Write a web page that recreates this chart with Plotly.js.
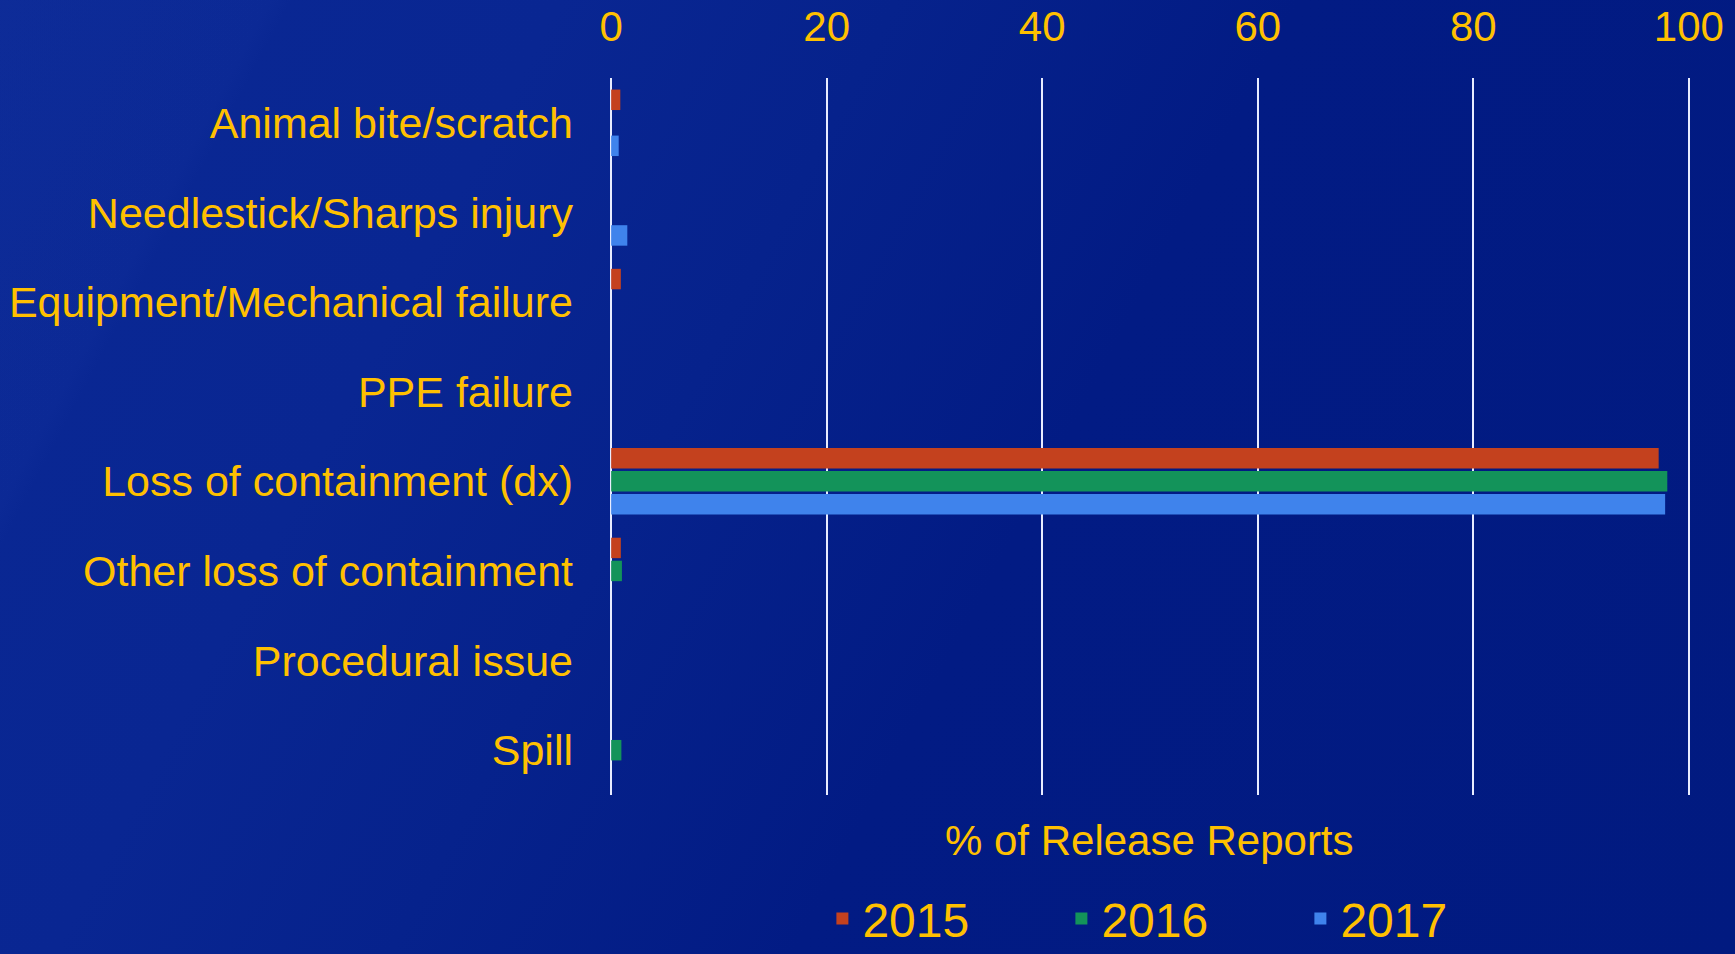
<!DOCTYPE html>
<html>
<head>
<meta charset="utf-8">
<script src="https://cdn.plot.ly/plotly-3.0.1.min.js"></script>
<style>
html, body { margin:0; padding:0; width:1735px; height:954px; overflow:hidden; }
body {
  background:
    linear-gradient(118deg, rgba(30,60,170,0.18) 0%, rgba(30,60,170,0.10) 12%, rgba(0,0,0,0) 13%),
    linear-gradient(118deg, #0a2894 0%, #092692 25%, #06228c 40%, #021b84 58%, #011a80 100%);
}
#chart { width:1735px; height:954px; }
</style>
</head>
<body>
<div id="chart"></div>
<script>
const categories = [
  "Animal bite/scratch",
  "Needlestick/Sharps injury",
  "Equipment/Mechanical failure",
  "PPE failure",
  "Loss of containment (dx)",
  "Other loss of containment",
  "Procedural issue",
  "Spill"
];
const seriesNames = ["2015", "2016", "2017"];
const values2015 = [0.85, 0, 0.9, 0, 97.2, 0.9, 0, 0];
const values2016 = [0, 0, 0, 0, 98.0, 1.0, 0, 0.95];
const values2017 = [0.7, 1.5, 0, 0, 97.8, 0, 0, 0];
const xTicks = [0, 20, 40, 60, 80, 100];
const xTitle = "% of Release Reports";

const gold = "#FFC000";
const font = "Liberation Sans, Arial, sans-serif";

const colors = ["#C4411E", "#13935A", "#3F83EC"];
const allValues = [values2015, values2016, values2017];

const traces = allValues.map((vals, i) => ({
  type: "bar",
  orientation: "h",
  name: seriesNames[i],
  x: vals,
  y: categories,
  marker: { color: colors[i], line: { width: 0 } },
  hoverinfo: "x+y"
}));

const layout = {
  width: 1735,
  height: 954,
  paper_bgcolor: "rgba(0,0,0,0)",
  plot_bgcolor: "rgba(0,0,0,0)",
  margin: { l: 609, r: 44, t: 78, b: 159, autoexpand: false },
  barmode: "group",
  bargap: 0.23,
  bargroupgap: 0.11,
  showlegend: true,
  legend: {
    orientation: "h",
    xref: "container", yref: "container",
    x: 0.474, xanchor: "left",
    y: 0.037, yanchor: "middle",
    font: { family: font, size: 48, color: gold },
    entrywidth: 194,
    entrywidthmode: "pixels",
    bgcolor: "rgba(0,0,0,0)",
    itemclick: false
  },
  xaxis: {
    side: "top",
    range: [-0.2, 100.2],
    tickvals: xTicks,
    ticktext: xTicks.map(String),
    showgrid: true,
    gridcolor: "#E8ECFF",
    gridwidth: 2,
    zeroline: false,
    showline: false,
    ticks: "",
    ticklabelstandoff: 28,
    tickfont: { family: font, size: 42, color: gold },
    fixedrange: true
  },
  yaxis: {
    autorange: "reversed",
    type: "category",
    showgrid: false,
    zeroline: false,
    showline: false,
    ticks: "",
    ticklabelstandoff: 35,
    tickfont: { family: font, size: 43, color: gold },
    fixedrange: true
  },
  annotations: [{
    text: xTitle,
    xref: "paper", yref: "paper",
    x: (1149 - 609) / (1735 - 609 - 44), y: (795 - 840) / (954 - 78 - 159),
    xanchor: "center", yanchor: "middle",
    showarrow: false,
    font: { family: font, size: 42, color: gold }
  }]
};

Plotly.newPlot("chart", traces, layout, { displayModeBar: false, staticPlot: true });
</script>
</body>
</html>
